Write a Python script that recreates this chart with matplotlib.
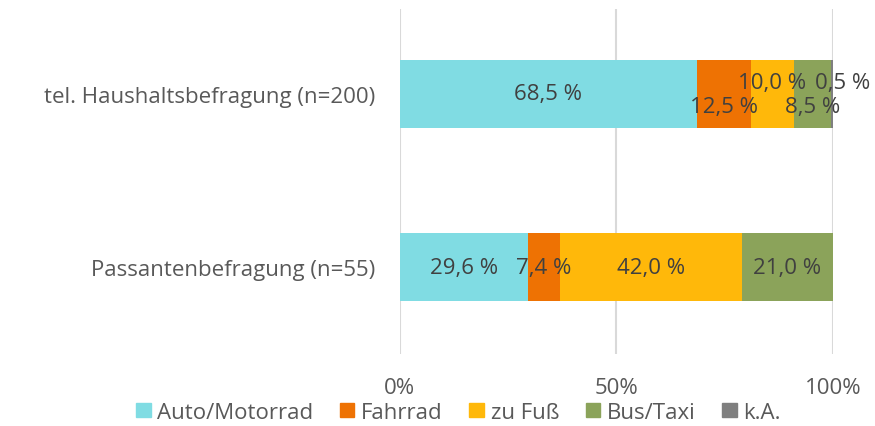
import matplotlib.pyplot as plt
import numpy as np

plt.rcParams['font.family'] = ['Open Sans', 'DejaVu Sans']

categories = ['tel. Haushaltsbefragung (n=200)', 'Passantenbefragung (n=55)']
series = ['Auto/Motorrad', 'Fahrrad', 'zu Fuß', 'Bus/Taxi', 'k.A.']
values = {
    'Auto/Motorrad': [68.5, 29.6],
    'Fahrrad': [12.5, 7.4],
    'zu Fuß': [10.0, 42.0],
    'Bus/Taxi': [8.5, 21.0],
    'k.A.': [0.5, 0.0],
}
colors = ['#80DCE3', '#EE7203', '#FFB80A', '#8BA35A', '#7F7F7F']
xticks = [0, 50, 100]
xticklabels = ['0%', '50%', '100%']

# label offsets (points) for the crowded top bar
offsets = {
    (0, 'Fahrrad'): (0, -9),
    (0, 'zu Fuß'): (0, 8),
    (0, 'Bus/Taxi'): (0, -9),
    (0, 'k.A.'): (8, 8),
}

fig = plt.figure(figsize=(8.75, 4.27), dpi=100)
ax = fig.add_axes([0.457, 0.169, 0.495, 0.808])

y = np.arange(len(categories))
left = np.zeros(len(categories))
txt = '#404040'
fs = 16
for s, c in zip(series, colors):
    v = np.array(values[s])
    ax.barh(y, v, left=left, height=0.39, color=c, zorder=2)
    for i, val in enumerate(v):
        if val <= 0:
            continue
        dx, dy = offsets.get((i, s), (0, 0))
        ax.annotate(('%.1f %%' % val).replace('.', ','),
                    (left[i] + val / 2, y[i]), xytext=(dx, dy),
                    textcoords='offset points', ha='center', va='center',
                    fontsize=fs, color=txt, zorder=3)
    left += v

ax.set_ylim(1.5, -0.49)
ax.set_xlim(0, 100)
ax.set_yticks(y)
ax.set_yticklabels(categories, fontsize=fs, color='#595959')
ax.set_xticks(xticks)
ax.set_xticklabels(xticklabels, fontsize=fs, color='#595959')
ax.tick_params(length=0)
ax.tick_params(axis='x', pad=17)
ax.tick_params(axis='y', pad=18)
ax.grid(axis='x', color='#D9D9D9', linewidth=1.5, zorder=0)
for sp in ax.spines.values():
    sp.set_visible(False)

handles = [plt.Rectangle((0, 0), 1, 1, color=c) for c in colors]
fig.legend(handles, series, loc='center', bbox_to_anchor=(0.524, 0.032),
           ncol=5, frameon=False, fontsize=fs, handlelength=0.65,
           handleheight=0.65, handletextpad=0.3, columnspacing=1.2,
           labelcolor='#595959', borderpad=0)

fig.savefig('out.png', dpi=100)
